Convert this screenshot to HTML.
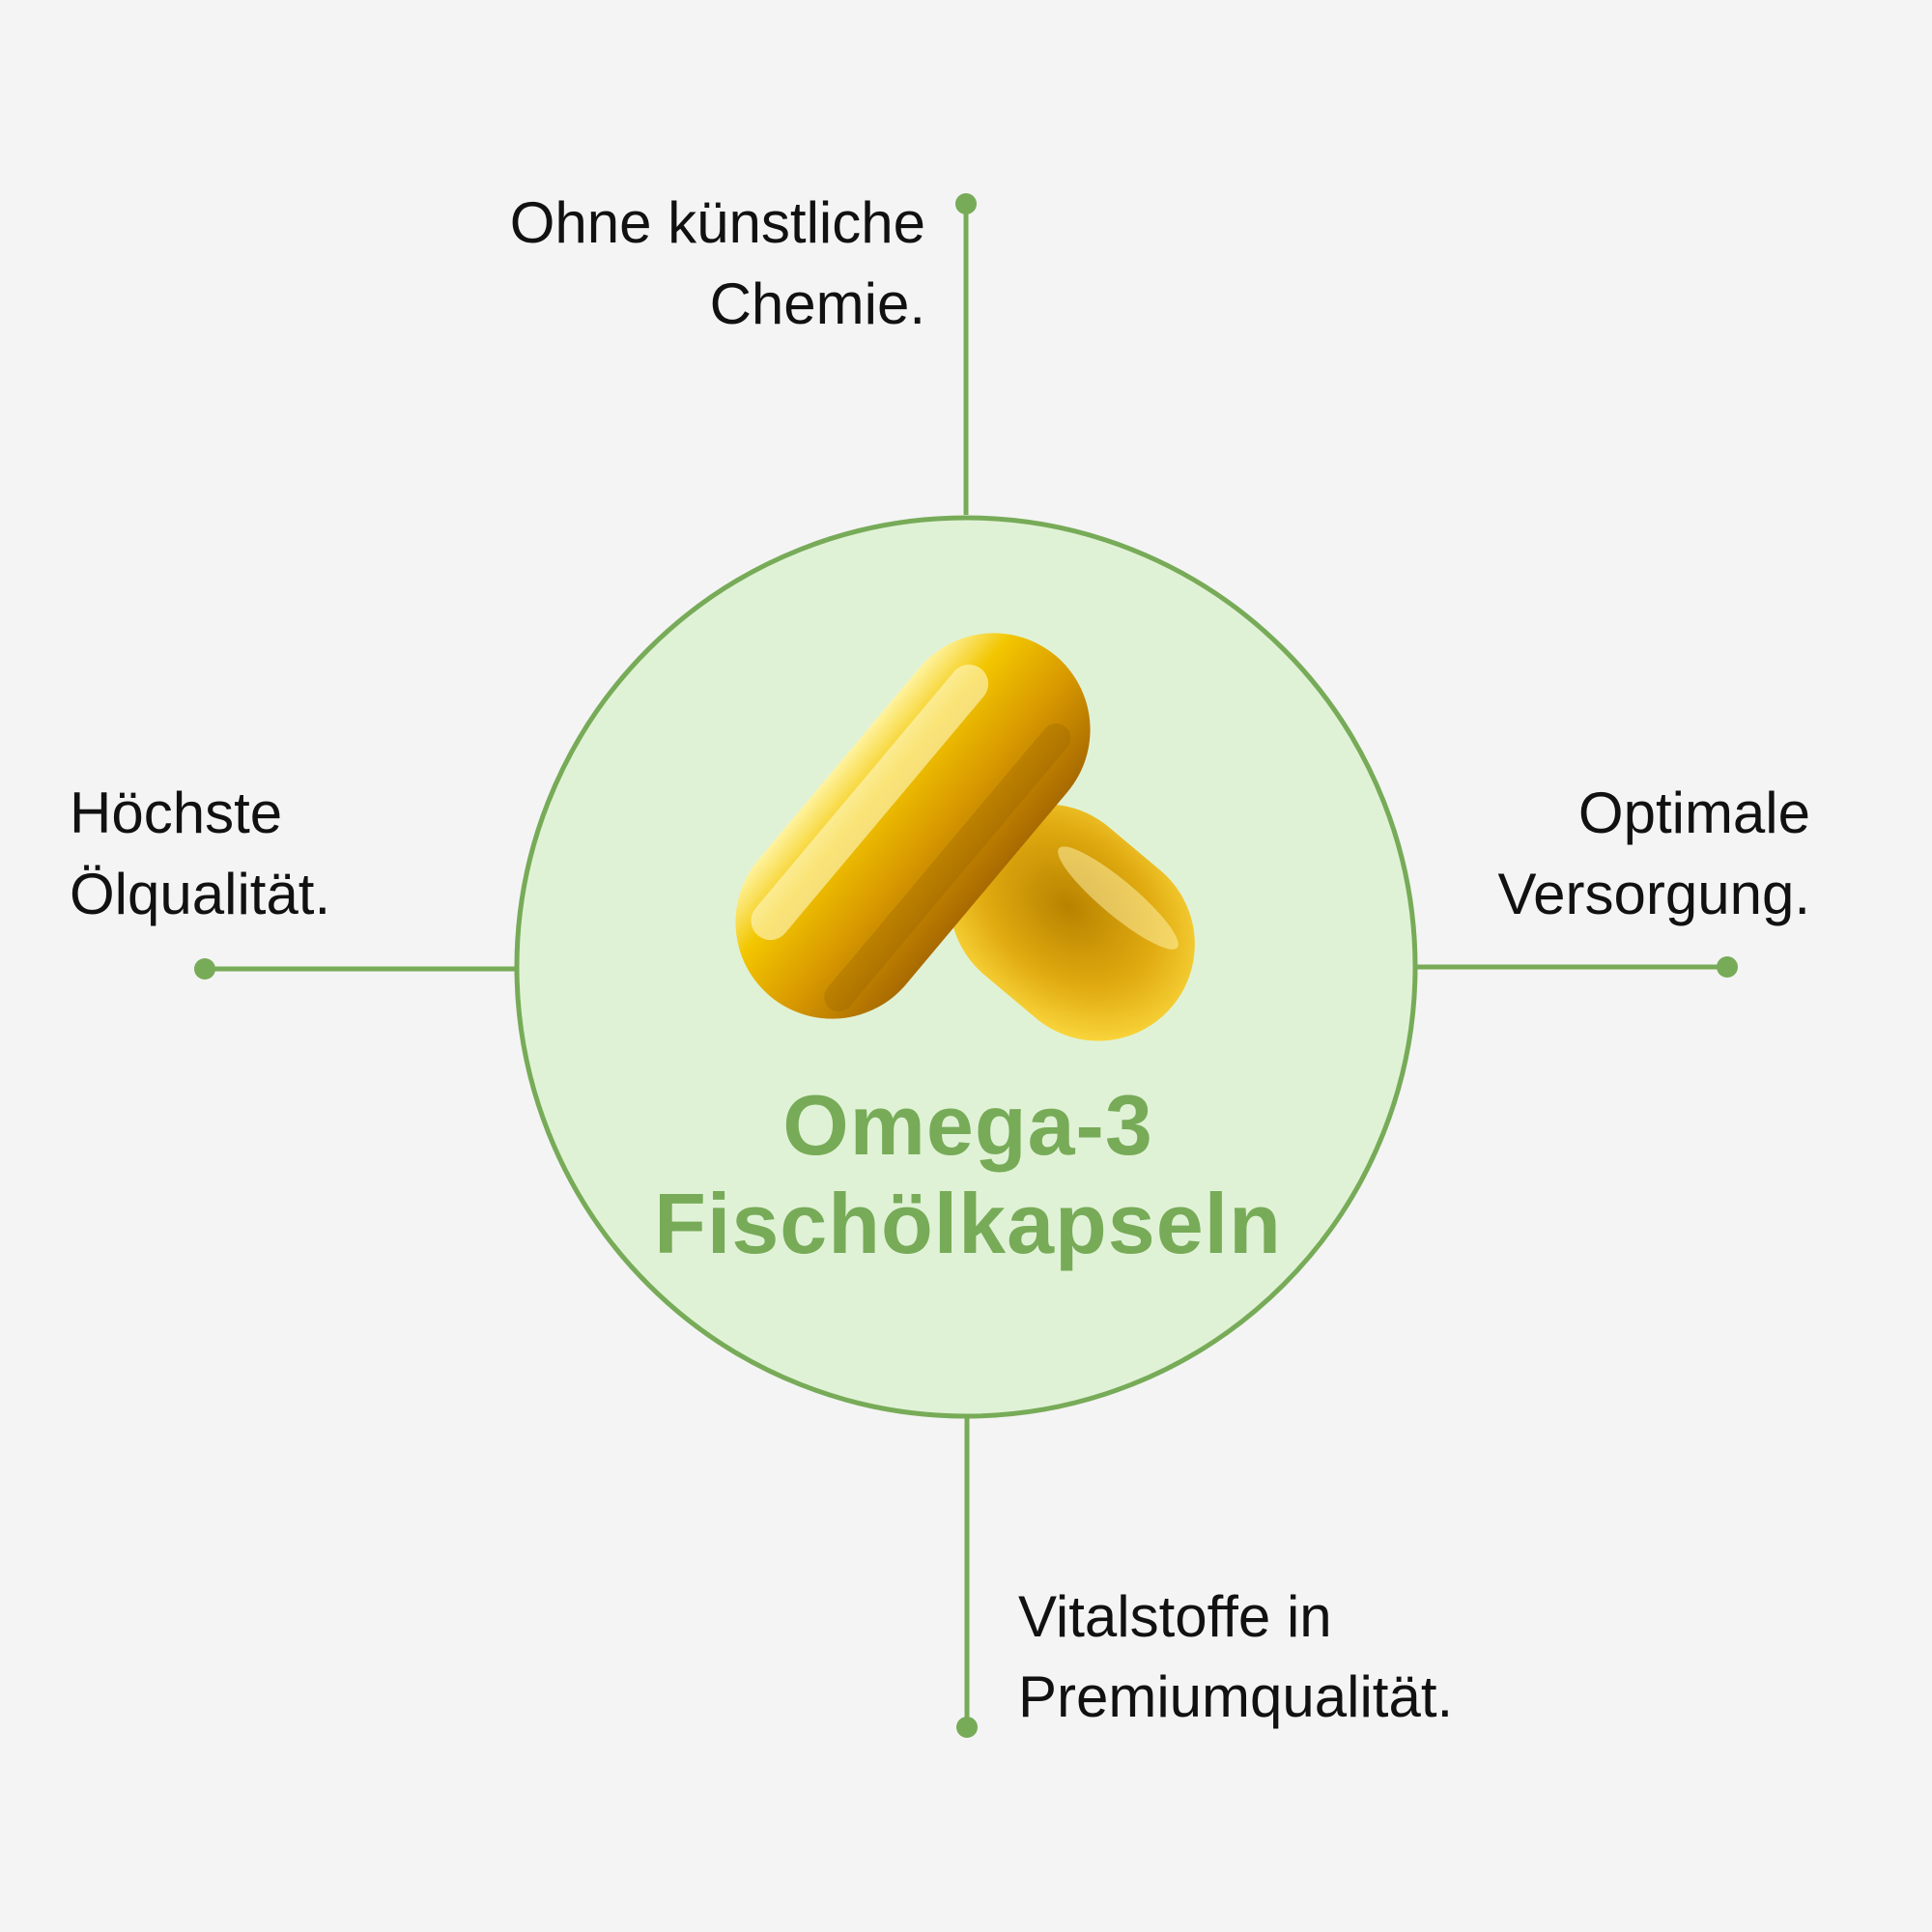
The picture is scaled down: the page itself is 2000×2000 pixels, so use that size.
<!DOCTYPE html>
<html><head><meta charset="utf-8"><style>
html,body{margin:0;padding:0;background:#f4f4f4;}
svg{display:block}
</style></head><body>
<svg width="2000" height="2000" viewBox="0 0 2000 2000" xmlns="http://www.w3.org/2000/svg">
<defs>
<linearGradient id="g1" x1="0" y1="0" x2="0" y2="1">
<stop offset="0" stop-color="#fff3a0"/><stop offset="0.25" stop-color="#f2c600"/><stop offset="0.6" stop-color="#d99a00"/><stop offset="1" stop-color="#a86a00"/>
</linearGradient>
<radialGradient id="g2" cx="0.45" cy="0.45" r="0.6">
<stop offset="0" stop-color="#b88200"/><stop offset="0.6" stop-color="#e0aa10"/><stop offset="1" stop-color="#f8d43a"/>
</radialGradient>
</defs>
<rect width="2000" height="2000" fill="#f4f4f4"/>
<g stroke="#77ab58" stroke-width="5" fill="#77ab58">
<line x1="1000" y1="211" x2="1000" y2="533"/>
<circle cx="1000" cy="211" r="11" stroke="none"/>
<line x1="212" y1="1003" x2="535" y2="1003"/>
<circle cx="212" cy="1003" r="11" stroke="none"/>
<line x1="1465" y1="1001" x2="1788" y2="1001"/>
<circle cx="1788" cy="1001" r="11" stroke="none"/>
<line x1="1001" y1="1467" x2="1001" y2="1788"/>
<circle cx="1001" cy="1788" r="11" stroke="none"/>
</g>
<circle cx="1000" cy="1001" r="465" fill="#e0f2d6" stroke="#77ab58" stroke-width="5"/>
<!-- back capsule -->
<g transform="translate(1110,955) rotate(40)">
<rect x="-135" y="-100" width="270" height="200" rx="100" fill="url(#g2)"/>
<ellipse cx="20" cy="-50" rx="80" ry="18" fill="#fff6b0" opacity="0.5"/>
</g>
<!-- front capsule -->
<g transform="translate(945,855) rotate(-50)">
<rect x="-230" y="-100" width="460" height="200" rx="100" fill="url(#g1)"/>
<rect x="-190" y="-70" width="360" height="40" rx="20" fill="#fff9c8" opacity="0.6"/>
<rect x="-200" y="40" width="380" height="30" rx="15" fill="#8a5a00" opacity="0.25"/>
</g>
<g font-family="Liberation Sans, sans-serif" font-size="60" fill="#111">
<text x="958" y="251" text-anchor="end">Ohne künstliche</text>
<text x="958" y="335" text-anchor="end">Chemie.</text>
<text x="72" y="862">Höchste</text>
<text x="72" y="946">Ölqualität.</text>
<text x="1874" y="862" text-anchor="end">Optimale</text>
<text x="1874" y="946" text-anchor="end">Versorgung.</text>
<text x="1054" y="1694">Vitalstoffe in</text>
<text x="1054" y="1777">Premiumqualität.</text>
</g>
<g font-family="Liberation Sans, sans-serif" font-size="88" font-weight="bold" fill="#77ab58" text-anchor="middle" letter-spacing="1">
<text x="1002" y="1195">Omega-3</text>
<text x="1002" y="1297">Fischölkapseln</text>
</g>
</svg>
</body></html>
